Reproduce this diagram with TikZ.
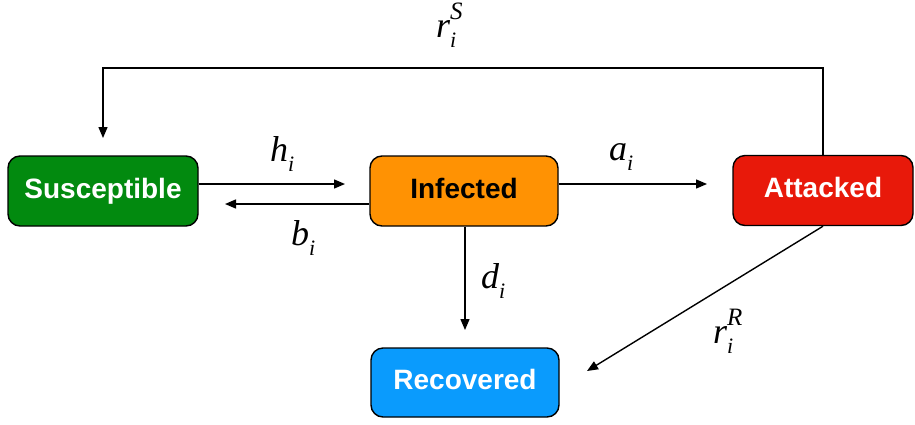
\documentclass[tikz,border=0pt]{standalone}
\usepackage{fontspec}
\setmainfont{Liberation Serif}
\newfontfamily\nodefont{Liberation Sans}
\usetikzlibrary{arrows.meta}
\definecolor{cS}{HTML}{028A0F}
\definecolor{cI}{HTML}{FF9203}
\definecolor{cA}{HTML}{E8190A}
\definecolor{cR}{HTML}{0A9BFD}
\newcommand\sbi[1]{\raisebox{-10pt}{\fontsize{22}{22}\selectfont #1}}
\newcommand\spi[1]{\raisebox{17.5pt}{\fontsize{25}{25}\selectfont #1}}
\tikzset{
  state/.style={draw=black, line width=1.4pt, rounded corners=12pt, minimum height=70pt, inner sep=0pt,
    text height=20pt, text depth=6pt, font=\nodefont\bfseries\fontsize{28}{30}\selectfont},
  arr/.style={line width=1.4pt, -{Triangle[length=11pt,width=9pt]}},
  lab/.style={font=\fontsize{36}{40}\selectfont\itshape, inner sep=0pt, anchor=base west}
}
\begin{document}
\begin{tikzpicture}[x=1pt,y=-1pt]
\useasboundingbox (0,0) rectangle (915,424);
\node[state, fill=cS, text=white, minimum width=190pt] (S) at (103,191) {Susceptible};
\node[state, fill=cI, text=black, minimum width=188pt] (I) at (464,191) {Infected};
\node[state, fill=cA, text=white, minimum width=180pt] (A) at (823,190.5) {Attacked};
\node[state, fill=cR, text=white, minimum width=188pt, minimum height=69pt] (R) at (465,382.5) {Recovered};
\coordinate (hEnd) at (345,184);
\coordinate (bEnd) at (225,204);
\coordinate (aEnd) at (707,184);
\coordinate (dEnd) at (465,330);
\coordinate (rREnd) at (587,371);
\coordinate (rSEnd) at (103,138);
\coordinate (topL) at (103,68);
\draw[arr] (S.east |- hEnd) -- (hEnd);
\draw[arr] (I.west |- bEnd) -- (bEnd);
\draw[arr] (I.east |- aEnd) -- (aEnd);
\draw[arr] (I.south -| dEnd) -- (dEnd);
\draw[arr] (A.south) -- (rREnd);
\draw[arr] (A.north) |- (topL) -- (rSEnd);
\node[lab] (lh) at (270,161) {h\sbi{i}};
\node[lab] (lb) at (291,245) {b\sbi{i}};
\node[lab] (la) at (609,160) {a\sbi{i}};
\node[lab] (ld) at (481,288) {d\sbi{i}};
\node[lab] (lrR) at (713,343) {r\rlap{\spi{R}}\sbi{i}\hphantom{\spi{R}}};
\node[lab] (lrS) at (436,37) {r\rlap{\spi{S}}\sbi{i}\hphantom{\spi{S}}};
\end{tikzpicture}
\end{document}
